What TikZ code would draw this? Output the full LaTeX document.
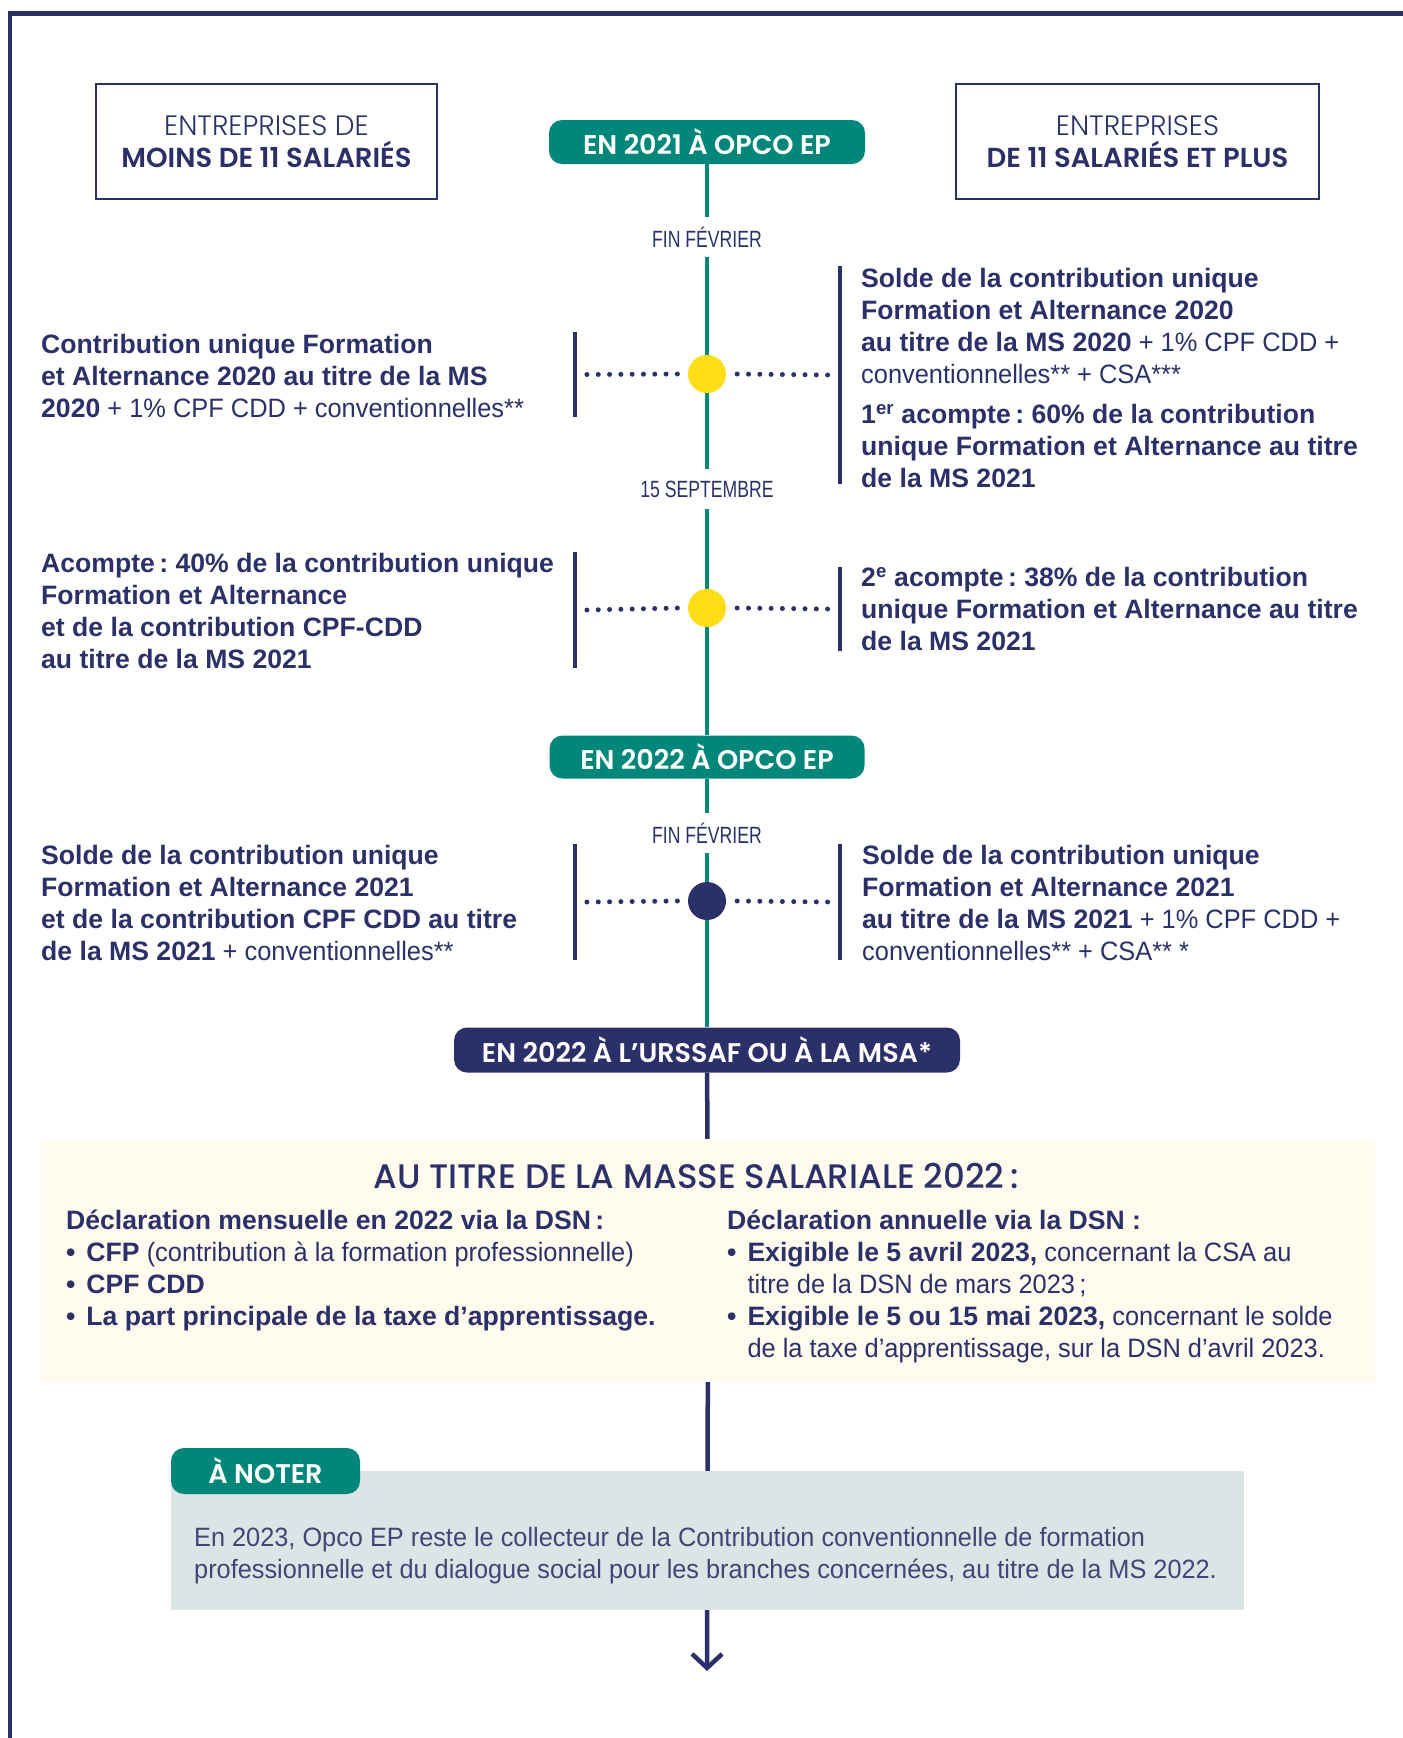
\documentclass[tikz,border=0pt]{standalone}
\usepackage{fontspec}
\usetikzlibrary{arrows.meta}
\setmainfont{Liberation Sans}[UprightFeatures={FakeStretch=0.955}]
\newfontfamily\geofont{Poppins}[BoldFont={Poppins SemiBold}]
\newfontfamily\geolight{Poppins Light}[BoldFont={Poppins SemiBold}]
\newfontfamily\geomedium{Poppins Medium}
\newfontfamily\datefont{Liberation Sans}[FakeStretch=0.75]
\frenchspacing
\definecolor{navy}{HTML}{2C3068}
\definecolor{opcoteal}{HTML}{00877A}
\definecolor{dotyellow}{HTML}{FFDD17}
\definecolor{cream}{HTML}{FFFBEE}
\definecolor{notegrey}{HTML}{DCE5E5}
\newcommand{\bul}{\textbf{•}\hspace{11pt}}
\tikzset{
  pill/.style={rounded corners=13pt, text=white, inner sep=0pt,
    font=\geofont\bfseries\fontsize{27}{30}\selectfont},
  headbox/.style={draw=navy, line width=2.5pt, minimum height=115pt,
    align=center, text=navy, inner sep=0pt,
    font=\geolight\fontsize{28}{32}\selectfont},
  datelabel/.style={text=navy, minimum height=39pt, inner sep=0pt,
    font=\datefont\fontsize{23.5}{26}\selectfont},
  milestone/.style={circle, minimum size=38pt, inner sep=0pt},
  sidebar/.style={fill=navy, minimum width=3.5pt, inner sep=0pt},
  info/.style={text=navy, align=left, inner sep=0pt, anchor=west,
    font=\fontsize{26.6}{32}\selectfont},
  dotline/.style={navy, line width=5pt, line cap=round,
    dash pattern=on 0pt off 11.3pt},
  spine/.style={line width=4.5pt},
}
\begin{document}
\begin{tikzpicture}[x=1pt,y=-1pt]
    \useasboundingbox (0,0) rectangle (1403,1738);
    %% frame
    \draw[navy, line width=4.5pt] (10,1738) -- (10,13.3) -- (1403,13.3);
    %% headers
    \node[headbox, minimum width=341pt] (small) at (266.5,141.5)
        {ENTREPRISES DE\\ {\fontsize{27.5}{32}\selectfont\bfseries MOINS DE 11 SALARIÉS}};
    \node[headbox, minimum width=363pt] (large) at (1137.5,141.5)
        {ENTREPRISES\\ {\fontsize{27.5}{32}\selectfont\bfseries DE 11 SALARIÉS ET PLUS}};
    %% timeline
    \node[pill, fill=opcoteal, minimum width=316pt, minimum height=44pt] (opco21) at (707,142) {EN 2021 À OPCO EP};
    \node[datelabel] (fevA) at (707,237) {FIN FÉVRIER};
    \node[milestone, fill=dotyellow] (dotA) at (707,374) {};
    \node[datelabel] (sept) at (707,489) {15 SEPTEMBRE};
    \node[milestone, fill=dotyellow] (dotB) at (707,608) {};
    \node[pill, fill=opcoteal, minimum width=315pt, minimum height=43pt] (opco22) at (707,757) {EN 2022 À OPCO EP};
    \node[datelabel] (fevB) at (707,833) {FIN FÉVRIER};
    \node[milestone, fill=navy] (dotC) at (707,901) {};
    \node[pill, fill=navy, minimum width=506pt, minimum height=45pt] (urssaf) at (707,1050) {EN 2022 À L’URSSAF OU À LA MSA*};
    \draw[spine, opcoteal] (opco21) -- (fevA);
    \draw[spine, opcoteal] (fevA) -- (dotA);
    \draw[spine, opcoteal] (dotA) -- (sept);
    \draw[spine, opcoteal] (sept) -- (dotB);
    \draw[spine, opcoteal] (dotB) -- (opco22);
    \draw[spine, opcoteal] (opco22) -- (fevB);
    \draw[spine, opcoteal] (fevB) -- (dotC);
    \draw[spine, opcoteal] (dotC) -- (urssaf);
    %% side bars
    \node[sidebar, minimum height=85pt] (barL1) at (575,374.5) {};
    \node[sidebar, minimum height=218pt] (barR1) at (840,375) {};
    \node[sidebar, minimum height=116pt] (barL2) at (575,610) {};
    \node[sidebar, minimum height=84pt] (barR2) at (840,609) {};
    \node[sidebar, minimum height=116pt] (barL3) at (575,902) {};
    \node[sidebar, minimum height=116pt] (barR3) at (840,902) {};
    \draw[dotline] ([xshift=10pt]barL1.east) -- ([xshift=-10pt]dotA.west);
    \draw[dotline] ([xshift=11pt]dotA.east) -- ([xshift=-9pt]barR1.west);
    \draw[dotline] ([xshift=10pt]barL2.east) -- ([xshift=-10pt]dotB.west);
    \draw[dotline] ([xshift=11pt]dotB.east) -- ([xshift=-9pt]barR2.west);
    \draw[dotline] ([xshift=10pt]barL3.east) -- ([xshift=-10pt]dotC.west);
    \draw[dotline] ([xshift=11pt]dotC.east) -- ([xshift=-9pt]barR3.west);
    %% texts
    \node[info] (smallA) at (41,376) {\textbf{Contribution unique Formation}\\
        \textbf{et Alternance 2020 au titre de la MS}\\
        \textbf{2020} + 1\% CPF CDD + conventionnelles**};
    \node[info] (largeA) at (861,378) {\textbf{Solde de la contribution unique}\\
        \textbf{Formation et Alternance 2020}\\
        \textbf{au titre de la MS 2020} + 1\% CPF CDD +\\
        conventionnelles** + CSA***\\[8pt]
        \textbf{1\textsuperscript{er} acompte\,: 60\% de la contribution}\\
        \textbf{unique Formation et Alternance au titre}\\
        \textbf{de la MS 2021}};
    \node[info] (smallB) at (41,611) {\textbf{Acompte\,: 40\% de la contribution unique}\\
        \textbf{Formation et Alternance}\\
        \textbf{et de la contribution CPF-CDD}\\
        \textbf{au titre de la MS 2021}};
    \node[info] (largeB) at (861,609) {\textbf{2\textsuperscript{e} acompte\,: 38\% de la contribution}\\
        \textbf{unique Formation et Alternance au titre}\\
        \textbf{de la MS 2021}};
    \node[info] (smallC) at (41,903) {\textbf{Solde de la contribution unique}\\
        \textbf{Formation et Alternance 2021}\\
        \textbf{et de la contribution CPF CDD au titre}\\
        \textbf{de la MS 2021} + conventionnelles**};
    \node[info] (largeC) at (862,903) {\textbf{Solde de la contribution unique}\\
        \textbf{Formation et Alternance 2021}\\
        \textbf{au titre de la MS 2021} + 1\% CPF CDD +\\
        conventionnelles** + CSA** *};
    %% masse salariale 2022
    \node[fill=cream, minimum width=1334pt, minimum height=243pt, inner sep=0pt] (masse) at (708,1260.5) {};
    \node[text=navy, font=\geomedium\fontsize{34}{38}\selectfont] (masseTitle) at (696,1176)
        {AU TITRE DE LA MASSE SALARIALE 2022\,:};
    \node[info] (monthly) at (66,1271) {\textbf{Déclaration mensuelle en 2022 via la DSN\,:}\\
        \bul\textbf{CFP} (contribution à la formation professionnelle)\\
        \bul\textbf{CPF CDD}\\
        \bul\textbf{La part principale de la taxe d'apprentissage.}};
    \node[info] (yearly) at (727,1286.5) {\textbf{Déclaration annuelle via la DSN :}\\
        \bul\textbf{Exigible le 5 avril 2023,} concernant la CSA au\\
        \phantom{\bul}titre de la DSN de mars 2023\,;\\
        \bul\textbf{Exigible le 5 ou 15 mai 2023,} concernant le solde\\
        \phantom{\bul}de la taxe d’apprentissage, sur la DSN d’avril 2023.};
    \draw[spine, navy] (urssaf) -- (masse);
    %% note
    \node[fill=notegrey, minimum width=1073pt, minimum height=139pt, inner sep=0pt] (note) at (707.5,1540.5) {};
    \node[pill, fill=opcoteal, minimum width=189pt, minimum height=46pt] (noteTab) at (265.5,1471) {À NOTER};
    \node[info, text=navy!90, font=\fontsize{26.5}{32}\selectfont] (noteText) at (194,1556) {En 2023, Opco EP reste le collecteur de la Contribution conventionnelle de formation\\
        professionnelle et du dialogue social pour les branches concernées, au titre de la MS 2022.};
    \coordinate (endTip) at (707,1671);
    \draw[spine, navy] (masse) -- (note);
    \draw[spine, navy, -{Straight Barb[length=14pt,width=30pt]}] (note) -- (endTip);
\end{tikzpicture}
\end{document}
